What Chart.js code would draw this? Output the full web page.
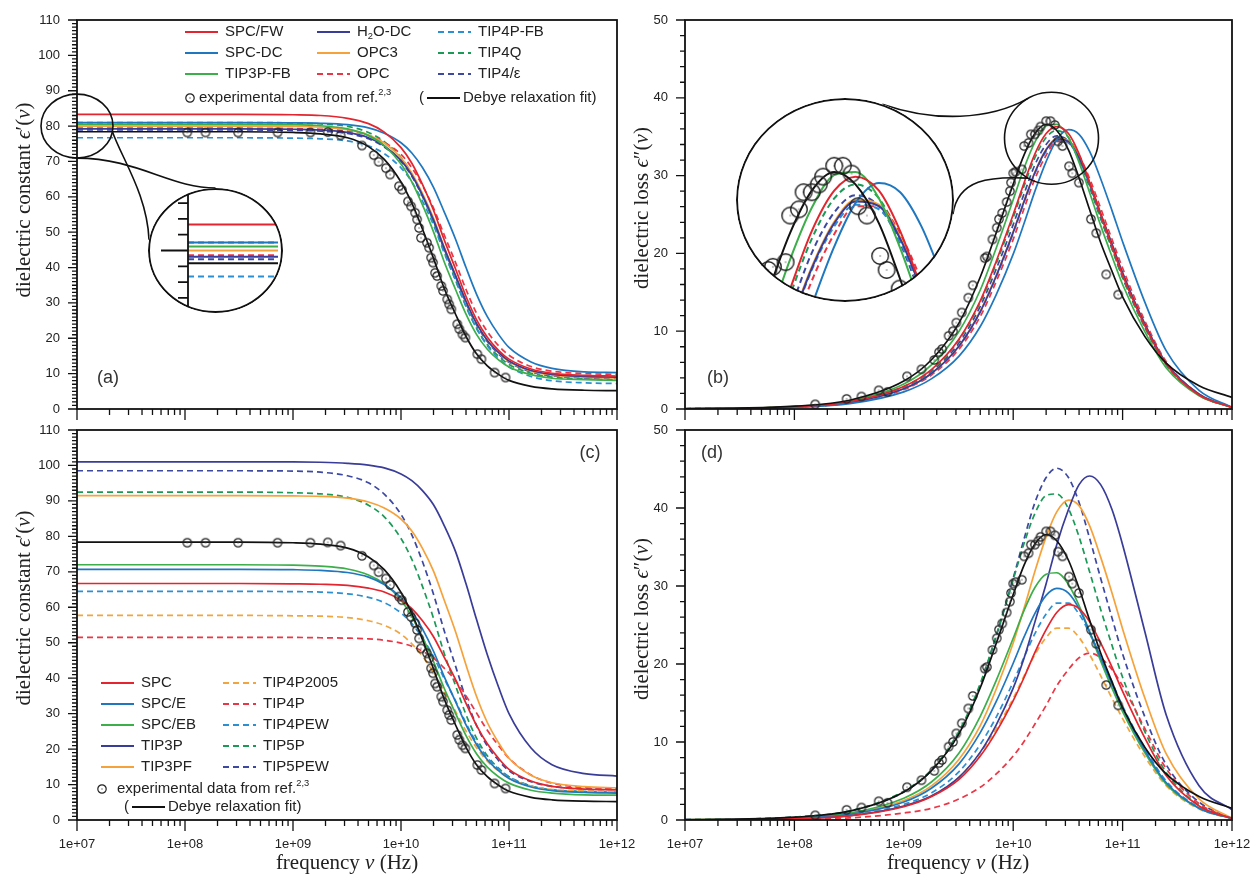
<!DOCTYPE html>
<html>
<head>
<meta charset="utf-8">
<title>Dielectric spectra of water models</title>
<script src="https://cdn.jsdelivr.net/npm/chart.js@4.4.1/dist/chart.umd.min.js"></script>
<style>
  html, body { margin: 0; padding: 0; background: #fff; }
  #page { position: relative; width: 1257px; height: 875px; overflow: hidden; background: #fff; }
  #page > canvas { position: absolute; }
  .lens { position: absolute; border-radius: 50%; overflow: hidden; background: #fff; }
  .lens canvas { position: absolute; left: 0; top: 0; }
</style>
</head>
<body>
<div id="page">
  <canvas id="cA" width="640" height="428" style="left:0;top:0"></canvas>
  <canvas id="cB" width="629" height="428" style="left:628px;top:0"></canvas>
  <canvas id="cC" width="640" height="460" style="left:0;top:415px"></canvas>
  <canvas id="cD" width="629" height="460" style="left:628px;top:415px"></canvas>
  <div class="lens" style="left:148px;top:188px;width:135px;height:125px"><canvas id="lensA" width="135" height="125"></canvas></div>
  <div class="lens" style="left:736px;top:98px;width:218px;height:204px"><canvas id="lensB" width="218" height="204"></canvas></div>
</div>
<script>
// frequency grid shared by every model curve (Hz)
const freq = [1e7, 3.2e7, 1e8, 3.2e8, 1e9, 1.8e9, 3.2e9, 5e9, 7e9, 1e10, 1.26e10, 1.58e10, 2e10, 2.5e10, 3.2e10, 4e10, 5e10, 6.3e10, 8e10, 1e11, 1.6e11, 2.5e11, 5e11, 1e12];
const decades = [1e7, 1e8, 1e9, 1e10, 1e11, 1e12];
const decadeLabels = ['1e+07', '1e+08', '1e+09', '1e+10', '1e+11', '1e+12'];
const realTicks = [0, 10, 20, 30, 40, 50, 60, 70, 80, 90, 100, 110];
const lossTicks = [0, 10, 20, 30, 40, 50];

// measured points
const expRealFreq = [1.05e8, 1.55e8, 3.1e8, 7.2e8, 1.45e9, 2.1e9, 2.76e9, 4.35e9, 5.6e9, 6.2e9, 7.26e9, 7.93e9, 9.57e9, 1.02e10, 1.16e10, 1.24e10, 1.35e10, 1.41e10, 1.47e10, 1.53e10, 1.74e10, 1.82e10, 1.9e10, 1.98e10, 2.07e10, 2.16e10, 2.36e10, 2.45e10, 2.68e10, 2.79e10, 2.92e10, 3.32e10, 3.47e10, 3.71e10, 3.94e10, 5.09e10, 5.55e10, 7.36e10, 9.29e10];
const expReal = [78.2, 78.2, 78.2, 78.2, 78.2, 78.3, 77.4, 74.5, 71.8, 69.9, 68.1, 66.3, 63.0, 62.0, 58.7, 57.3, 55.5, 53.6, 51.2, 48.4, 47.0, 45.6, 42.8, 41.4, 38.5, 37.6, 34.8, 33.4, 31.0, 29.6, 28.2, 24.0, 22.6, 21.1, 20.2, 15.5, 14.1, 10.3, 8.9];
const expLossFreq = [1.55e8, 3.0e8, 4.1e8, 5.9e8, 7.1e8, 1.07e9, 1.45e9, 1.9e9, 2.1e9, 2.24e9, 2.57e9, 2.82e9, 3.02e9, 3.39e9, 3.89e9, 4.27e9, 5.5e9, 5.75e9, 6.46e9, 7.08e9, 7.41e9, 7.94e9, 8.71e9, 9.33e9, 9.55e9, 1.0e10, 1.05e10, 1.2e10, 1.26e10, 1.38e10, 1.45e10, 1.58e10, 1.7e10, 1.78e10, 2.0e10, 2.19e10, 2.4e10, 2.57e10, 2.82e10, 3.24e10, 3.47e10, 3.98e10, 5.13e10, 5.75e10, 7.08e10, 9.12e10];
const expLoss = [0.6, 1.3, 1.6, 2.4, 2.2, 4.2, 5.1, 6.3, 7.3, 7.7, 9.4, 10.0, 11.1, 12.4, 14.3, 15.9, 19.4, 19.6, 21.8, 23.3, 24.4, 25.2, 26.6, 28.0, 29.1, 30.3, 30.5, 30.8, 33.8, 34.2, 35.3, 35.3, 35.8, 36.3, 37.0, 37.0, 36.5, 34.4, 33.8, 31.2, 30.3, 29.1, 24.4, 22.6, 17.3, 14.7];

// Debye relaxation fit of the measurements
const epsDebye = [78.4, 78.4, 78.4, 78.4, 78.2, 77.8, 76.7, 74.2, 70.6, 64.2, 58.2, 50.9, 42.6, 34.3, 26.8, 20.5, 15.6, 12.2, 9.8, 8.1, 6.4, 5.7, 5.3, 5.2];
const lossDebye = [0.04, 0.11, 0.36, 1.13, 3.59, 6.36, 11.08, 16.96, 22.66, 28.9, 32.7, 35.4, 36.6, 35.8, 33.3, 29.7, 25.6, 21.4, 17.7, 14.4, 9.3, 5.9, 3.0, 1.5];

// (a) dielectric constant, newer models
const aSPCFW = [83.3, 83.3, 83.3, 83.3, 83.2, 83.0, 82.2, 80.7, 78.3, 73.9, 69.5, 63.5, 56.2, 48.0, 39.6, 31.8, 25.3, 20.3, 16.6, 14.1, 11.3, 10.1, 9.5, 9.3];
const aSPCDC = [81.0, 81.0, 81.0, 81.0, 80.9, 80.8, 80.4, 79.5, 78.0, 75.3, 72.4, 68.3, 62.7, 55.9, 48.0, 40.0, 32.5, 26.1, 21.1, 17.4, 13.3, 11.5, 10.5, 10.3];
const aTIP3PFB = [80.5, 80.5, 80.5, 80.5, 80.4, 80.1, 79.2, 77.3, 74.5, 69.3, 64.2, 57.7, 50.1, 41.8, 33.8, 26.8, 21.1, 16.9, 13.9, 11.9, 9.7, 8.7, 8.3, 8.1];
const aH2ODC = [79.2, 79.2, 79.2, 79.2, 79.1, 78.9, 78.2, 76.7, 74.4, 70.3, 66.1, 60.5, 53.5, 45.7, 37.7, 30.4, 24.2, 19.4, 16.0, 13.6, 10.9, 9.8, 9.2, 9.0];
const aOPC3 = [80.0, 80.0, 80.0, 80.0, 79.9, 79.7, 79.0, 77.5, 75.2, 71.0, 66.7, 61.0, 54.0, 46.0, 37.9, 30.5, 24.2, 19.4, 15.9, 13.4, 10.7, 9.6, 9.0, 8.8];
const aOPC = [79.4, 79.4, 79.4, 79.4, 79.3, 79.1, 78.6, 77.4, 75.4, 72.0, 68.2, 63.2, 56.8, 49.4, 41.4, 33.8, 27.1, 21.9, 17.9, 15.2, 12.0, 10.7, 10.0, 9.8];
const aTIP4PFB = [76.7, 76.7, 76.7, 76.7, 76.6, 76.4, 75.8, 74.4, 72.2, 68.2, 64.2, 58.8, 52.0, 44.3, 36.4, 29.0, 22.8, 17.9, 14.3, 11.9, 9.2, 8.0, 7.4, 7.2];
const aTIP4Q = [81.0, 81.0, 81.0, 81.0, 80.9, 80.6, 79.9, 78.2, 75.6, 71.1, 66.4, 60.3, 52.9, 44.7, 36.4, 29.0, 22.9, 18.2, 14.9, 12.6, 10.1, 9.0, 8.5, 8.3];
const aTIP4eps = [78.9, 78.9, 78.9, 78.9, 78.8, 78.6, 77.9, 76.4, 74.1, 70.0, 65.8, 60.1, 53.2, 45.4, 37.4, 30.0, 23.8, 19.1, 15.6, 13.2, 10.5, 9.4, 8.8, 8.6];

// (b) dielectric loss, newer models
const bSPCFW = [0.03, 0.09, 0.29, 0.91, 2.9, 5.1, 9.0, 13.9, 19.0, 25.0, 29.1, 32.8, 35.4, 36.3, 35.4, 32.8, 29.1, 25.0, 20.9, 17.2, 10.7, 5.8, 1.8, 0.2];
const bSPCDC = [0.02, 0.07, 0.22, 0.68, 2.2, 3.9, 6.8, 10.6, 14.7, 19.9, 23.9, 28.0, 31.8, 34.6, 35.9, 35.3, 33.1, 29.6, 25.5, 21.5, 13.7, 7.5, 2.4, 0.2];
const bTIP3PFB = [0.03, 0.1, 0.32, 1.0, 3.2, 5.7, 10.0, 15.3, 20.7, 26.9, 31.0, 34.3, 36.4, 36.6, 34.9, 31.7, 27.8, 23.6, 19.6, 16.0, 9.9, 5.3, 1.7, 0.2];
const bH2ODC = [0.03, 0.08, 0.26, 0.81, 2.6, 4.6, 8.1, 12.5, 17.1, 22.7, 26.7, 30.4, 33.3, 34.7, 34.4, 32.3, 29.0, 25.1, 21.2, 17.5, 10.9, 5.9, 1.9, 0.2];
const bOPC3 = [0.03, 0.08, 0.26, 0.82, 2.6, 4.6, 8.1, 12.6, 17.2, 22.8, 26.8, 30.5, 33.4, 34.8, 34.5, 32.4, 29.1, 25.2, 21.2, 17.5, 10.9, 5.9, 1.9, 0.2];
const bOPC = [0.02, 0.08, 0.24, 0.78, 2.5, 4.4, 7.7, 11.9, 16.4, 21.8, 25.8, 29.6, 32.6, 34.4, 34.4, 32.6, 29.6, 25.8, 21.8, 18.1, 11.3, 6.1, 1.9, 0.2];
const bTIP4PFB = [0.03, 0.08, 0.26, 0.81, 2.6, 4.6, 8.0, 12.5, 17.0, 22.6, 26.6, 30.3, 33.1, 34.5, 34.2, 32.1, 28.8, 25.0, 21.0, 17.4, 10.8, 5.9, 1.9, 0.2];
const bTIP4Q = [0.03, 0.09, 0.29, 0.9, 2.9, 5.0, 8.9, 13.7, 18.7, 24.6, 28.7, 32.3, 34.9, 35.8, 34.9, 32.3, 28.7, 24.6, 20.6, 16.9, 10.5, 5.7, 1.8, 0.2];
const bTIP4eps = [0.03, 0.09, 0.27, 0.86, 2.7, 4.8, 8.5, 13.2, 18.0, 23.7, 27.7, 31.4, 34.0, 35.1, 34.4, 32.0, 28.5, 24.5, 20.6, 16.9, 10.5, 5.7, 1.8, 0.2];

// (c) dielectric constant, classic models
const cSPC = [66.7, 66.7, 66.7, 66.7, 66.6, 66.5, 66.2, 65.4, 64.3, 62.0, 59.6, 56.2, 51.7, 46.0, 39.6, 32.9, 26.7, 21.5, 17.4, 14.3, 11.0, 9.5, 8.7, 8.5];
const cSPCE = [70.7, 70.7, 70.7, 70.7, 70.6, 70.4, 69.8, 68.5, 66.4, 62.7, 58.9, 53.9, 47.6, 40.6, 33.4, 26.8, 21.3, 17.0, 13.9, 11.7, 9.3, 8.3, 7.8, 7.6];
const cSPCEB = [72.0, 72.0, 72.0, 72.0, 71.9, 71.6, 70.8, 69.1, 66.6, 62.0, 57.4, 51.6, 44.7, 37.3, 30.1, 23.8, 18.7, 14.9, 12.2, 10.4, 8.4, 7.6, 7.1, 7.0];
const cTIP3P = [101.0, 101.0, 101.0, 101.0, 101.0, 100.9, 100.6, 100.1, 99.3, 97.6, 95.7, 92.9, 88.9, 83.2, 75.7, 66.6, 56.6, 46.6, 37.5, 30.0, 20.3, 15.6, 13.1, 12.4];
const cTIP3PF = [91.5, 91.5, 91.5, 91.5, 91.4, 91.3, 90.8, 89.7, 88.0, 84.9, 81.5, 76.6, 70.2, 62.2, 53.1, 43.7, 34.9, 27.5, 21.8, 17.4, 12.6, 10.5, 9.4, 9.1];
const cTIP4P2005 = [57.7, 57.7, 57.7, 57.7, 57.6, 57.5, 57.1, 56.2, 54.9, 52.4, 49.7, 46.2, 41.6, 36.3, 30.6, 25.1, 20.4, 16.6, 13.8, 11.8, 9.6, 8.6, 8.2, 8.0];
const cTIP4P = [51.5, 51.5, 51.5, 51.5, 51.5, 51.4, 51.3, 51.1, 50.7, 49.9, 49.0, 47.6, 45.7, 42.9, 39.3, 35.0, 30.2, 25.3, 21.0, 17.4, 12.7, 10.4, 9.2, 8.9];
const cTIP4PEW = [64.5, 64.5, 64.5, 64.5, 64.4, 64.3, 63.8, 62.8, 61.3, 58.4, 55.4, 51.3, 46.1, 40.0, 33.6, 27.3, 21.9, 17.6, 14.4, 12.2, 9.6, 8.5, 8.0, 7.8];
const cTIP5P = [92.5, 92.5, 92.5, 92.5, 92.3, 92.0, 91.0, 88.8, 85.5, 79.4, 73.5, 65.9, 56.9, 47.2, 37.9, 29.7, 23.1, 18.1, 14.6, 12.2, 9.6, 8.5, 8.0, 7.8];
const cTIP5PEW = [98.5, 98.5, 98.5, 98.5, 98.4, 98.1, 97.1, 95.1, 91.9, 86.2, 80.4, 72.9, 63.7, 53.6, 43.4, 34.2, 26.7, 20.9, 16.8, 13.9, 10.8, 9.5, 8.8, 8.6];

// (d) dielectric loss, classic models
const dSPC = [0.02, 0.06, 0.17, 0.52, 1.7, 3.0, 5.2, 8.2, 11.3, 15.3, 18.3, 21.5, 24.4, 26.6, 27.6, 27.1, 25.4, 22.7, 19.6, 16.5, 10.5, 5.7, 1.8, 0.2];
const dSPCE = [0.02, 0.07, 0.23, 0.73, 2.3, 4.1, 7.2, 11.2, 15.2, 20.1, 23.5, 26.5, 28.8, 29.7, 29.1, 27.1, 24.1, 20.8, 17.4, 14.3, 8.9, 4.8, 1.5, 0.2];
const dSPCEB = [0.03, 0.09, 0.28, 0.88, 2.8, 4.9, 8.6, 13.3, 17.9, 23.3, 26.9, 29.8, 31.5, 31.7, 30.2, 27.5, 24.1, 20.4, 16.9, 13.9, 8.6, 4.6, 1.5, 0.2];
const dTIP3P = [0.02, 0.05, 0.18, 0.56, 1.8, 3.1, 5.5, 8.7, 12.2, 16.9, 20.8, 25.4, 30.3, 35.3, 39.8, 43.0, 44.1, 43.0, 39.8, 35.3, 24.1, 13.5, 4.4, 1.3];
const dTIP3PF = [0.02, 0.08, 0.25, 0.78, 2.5, 4.4, 7.8, 12.1, 16.8, 22.7, 27.2, 31.9, 36.3, 39.5, 41.0, 40.3, 37.7, 33.7, 29.1, 24.5, 15.6, 8.5, 2.7, 0.2];
const dTIP4P2005 = [0.02, 0.05, 0.17, 0.56, 1.8, 3.1, 5.5, 8.6, 11.7, 15.6, 18.5, 21.2, 23.4, 24.6, 24.6, 23.4, 21.2, 18.5, 15.6, 13.0, 8.1, 4.4, 1.4, 0.2];
const dTIP4P = [0.01, 0.03, 0.09, 0.27, 0.9, 1.5, 2.7, 4.2, 5.9, 8.2, 10.1, 12.3, 14.7, 17.2, 19.3, 20.8, 21.4, 20.8, 19.3, 17.2, 11.7, 6.6, 2.1, 0.2];
const dTIP4PEW = [0.02, 0.06, 0.2, 0.63, 2.0, 3.5, 6.2, 9.7, 13.2, 17.7, 20.9, 23.9, 26.4, 27.8, 27.8, 26.4, 23.9, 20.9, 17.7, 14.6, 9.2, 5.0, 1.6, 0.2];
const dTIP5P = [0.03, 0.12, 0.37, 1.16, 3.7, 6.5, 11.4, 17.5, 23.7, 30.8, 35.5, 39.3, 41.6, 41.8, 39.9, 36.3, 31.8, 27.0, 22.4, 18.3, 11.3, 6.1, 1.9, 0.2];
const dTIP5PEW = [0.04, 0.12, 0.36, 1.14, 3.6, 6.4, 11.2, 17.3, 23.6, 31.0, 36.1, 40.7, 43.9, 45.1, 43.9, 40.7, 36.1, 31.0, 25.9, 21.3, 13.2, 7.1, 2.3, 0.2];

const RED = '#e2252e', BLUE = '#1f77c0', GREEN = '#3cae4a', NAVY = '#393c98', ORANGE = '#f6a23a';
const RED_D = '#ec3545', BLUE_D = '#2b8fd3', GREEN_D = '#1b9a57', NAVY_D = '#3c48a2', ORANGE_D = '#f2a53f';

const SANS = '"Liberation Sans", Arial, sans-serif';
const SERIF = '"Liberation Serif", "DejaVu Serif", serif';

// leg = legend line start in page pixels
const topModels = [
  { name: 'SPC/FW', real: aSPCFW, loss: bSPCFW, color: RED, leg: [185, 32] },
  { name: 'SPC-DC', real: aSPCDC, loss: bSPCDC, color: BLUE, leg: [185, 53] },
  { name: 'TIP3P-FB', real: aTIP3PFB, loss: bTIP3PFB, color: GREEN, leg: [185, 74] },
  { name: 'H2O-DC', rich: [['H', ''], ['2', 'sub'], ['O-DC', '']], real: aH2ODC, loss: bH2ODC, color: NAVY, leg: [317, 32] },
  { name: 'OPC3', real: aOPC3, loss: bOPC3, color: ORANGE, leg: [317, 53] },
  { name: 'OPC', real: aOPC, loss: bOPC, color: RED_D, dash: true, leg: [317, 74] },
  { name: 'TIP4P-FB', real: aTIP4PFB, loss: bTIP4PFB, color: BLUE_D, dash: true, leg: [438, 32] },
  { name: 'TIP4Q', real: aTIP4Q, loss: bTIP4Q, color: GREEN_D, dash: true, leg: [438, 53] },
  { name: 'TIP4/ε', real: aTIP4eps, loss: bTIP4eps, color: NAVY_D, dash: true, leg: [438, 74] }
];
const bottomModels = [
  { name: 'SPC', real: cSPC, loss: dSPC, color: RED, leg: [101, 683] },
  { name: 'SPC/E', real: cSPCE, loss: dSPCE, color: BLUE, leg: [101, 704] },
  { name: 'SPC/EB', real: cSPCEB, loss: dSPCEB, color: GREEN, leg: [101, 725] },
  { name: 'TIP3P', real: cTIP3P, loss: dTIP3P, color: NAVY, leg: [101, 746] },
  { name: 'TIP3PF', real: cTIP3PF, loss: dTIP3PF, color: ORANGE, leg: [101, 767] },
  { name: 'TIP4P2005', real: cTIP4P2005, loss: dTIP4P2005, color: ORANGE_D, dash: true, leg: [223, 683] },
  { name: 'TIP4P', real: cTIP4P, loss: dTIP4P, color: RED_D, dash: true, leg: [223, 704] },
  { name: 'TIP4PEW', real: cTIP4PEW, loss: dTIP4PEW, color: BLUE_D, dash: true, leg: [223, 725] },
  { name: 'TIP5P', real: cTIP5P, loss: dTIP5P, color: GREEN_D, dash: true, leg: [223, 746] },
  { name: 'TIP5PEW', real: cTIP5PEW, loss: dTIP5PEW, color: NAVY_D, dash: true, leg: [223, 767] }
];

Chart.defaults.font.family = SANS;
Chart.defaults.font.size = 13;
Chart.defaults.color = '#222';
Chart.defaults.animation = false;

// open circle marker with a tiny centre dot
function ring(r, lw) {
  const c = document.createElement('canvas');
  const s = Math.ceil(2 * r + lw + 2);
  c.width = c.height = s;
  const g = c.getContext('2d');
  g.strokeStyle = '#222';
  g.lineWidth = lw;
  g.beginPath();
  g.arc(s / 2, s / 2, r, 0, 2 * Math.PI);
  g.stroke();
  g.fillStyle = '#555';
  g.fillRect(s / 2 - 0.6, s / 2 - 0.6, 1.2, 1.2);
  return c;
}
const ringMain = ring(4.2, 1.2);
const ringLens = ring(8.3, 1.4);

function pts(xs, ys) { return xs.map((x, i) => ({ x, y: ys[i] })); }

function curve(name, ys, color, dash, w) {
  return {
    label: name, data: pts(freq, ys), borderColor: color, borderWidth: w,
    borderDash: dash ? [6, 4] : [], pointRadius: 0, fill: false,
    cubicInterpolationMode: 'monotone'
  };
}

function markers(xs, ys, img) {
  return { label: 'experiment', data: pts(xs, ys), showLine: false, pointStyle: img, pointRadius: 4, borderColor: '#222' };
}

function buildSets(models, key, debye, expX, expY, img, w) {
  return [markers(expX, expY, img), curve('Debye relaxation fit', debye, '#111', false, w)]
    .concat(models.map(m => curve(m.name, m[key], m.color, m.dash, w)));
}

// text with italic / sub / sup runs, drawn on one baseline
function rich(ctx, parts, x, y, size, family, align) {
  const items = parts.map(([t, s]) => {
    const small = s === 'sub' || s === 'sup';
    const font = (s === 'i' ? 'italic ' : '') + (small ? size * 0.62 : size) + 'px ' + family;
    ctx.font = font;
    return { t, font, w: ctx.measureText(t).width, dy: s === 'sub' ? size * 0.28 : s === 'sup' ? -size * 0.36 : 0 };
  });
  const total = items.reduce((s, it) => s + it.w, 0);
  let cx = align === 'center' ? x - total / 2 : x;
  ctx.textAlign = 'left';
  ctx.textBaseline = 'middle';
  items.forEach(it => { ctx.font = it.font; ctx.fillText(it.t, cx, y + it.dy); cx += it.w; });
  return total;
}

function drawLegend(ctx, L, ox, oy) {
  ctx.fillStyle = '#222';
  L.models.forEach(m => {
    const [lx, ly] = m.leg;
    ctx.save();
    ctx.strokeStyle = m.color;
    ctx.lineWidth = 2;
    ctx.setLineDash(m.dash ? [6, 4] : []);
    ctx.beginPath();
    ctx.moveTo(lx - ox, ly - oy);
    ctx.lineTo(lx + 33 - ox, ly - oy);
    ctx.stroke();
    ctx.restore();
    rich(ctx, m.rich || [[m.name, '']], lx + 40 - ox, ly - oy, 15, SANS, 'left');
  });
  const [ex, ey] = L.exp;
  ctx.drawImage(ringMain, ex - ox - ringMain.width / 2, ey - oy - ringMain.height / 2);
  rich(ctx, [['experimental data from ref.', ''], ['2,3', 'sup']], L.expText - ox, ey - oy, 15, SANS, 'left');
  const [fx, fy] = L.fit;
  rich(ctx, [['(', '']], fx - ox, fy - oy, 15, SANS, 'left');
  ctx.strokeStyle = '#111';
  ctx.lineWidth = 2;
  ctx.beginPath();
  ctx.moveTo(fx + 8 - ox, fy - oy);
  ctx.lineTo(fx + 41 - ox, fy - oy);
  ctx.stroke();
  rich(ctx, [['Debye relaxation fit)', '']], fx + 44 - ox, fy - oy, 15, SANS, 'left');
}

// small circle on the curves plus the two links to the magnifier
function drawLensLinks(ctx, chart, L, ox, oy) {
  const sx = chart.scales.x.getPixelForValue(L.at[0]);
  const sy = chart.scales.y.getPixelForValue(L.at[1]);
  const [bx, by, bw, bh] = L.box;
  const lcx = bx + bw / 2 - ox, lcy = by + bh / 2 - oy;
  const onSmall = a => [sx + L.rx * Math.cos(a * Math.PI / 180), sy + L.ry * Math.sin(a * Math.PI / 180)];
  const onLens = a => [lcx + bw / 2 * Math.cos(a * Math.PI / 180), lcy + bh / 2 * Math.sin(a * Math.PI / 180)];
  ctx.strokeStyle = '#111';
  ctx.lineWidth = 1.6;
  ctx.setLineDash([]);
  ctx.beginPath();
  ctx.ellipse(sx, sy, L.rx, L.ry, 0, 0, 2 * Math.PI);
  ctx.stroke();
  L.links.forEach(k => {
    const p0 = onSmall(k.s), p3 = onLens(k.e);
    ctx.beginPath();
    ctx.moveTo(p0[0], p0[1]);
    ctx.bezierCurveTo(p0[0] + k.c1[0], p0[1] + k.c1[1], p3[0] + k.c2[0], p3[1] + k.c2[1], p3[0], p3[1]);
    ctx.stroke();
  });
}

const xTitle = [['frequency ', ''], ['ν', 'i'], [' (Hz)', '']];
const realTitle = [['dielectric constant ', ''], ['ϵ', 'i'], ['′(', ''], ['ν', 'i'], [')', '']];
const lossTitle = [['dielectric loss ', ''], ['ϵ', 'i'], ['″(', ''], ['ν', 'i'], [')', '']];

const panel = {
  id: 'panel',
  afterDraw(chart, args, o) {
    const { ctx, chartArea: a, scales: { x, y } } = chart;
    const [ox, oy] = o.offset;
    ctx.save();
    ctx.strokeStyle = '#111';
    ctx.lineWidth = 1.8;
    ctx.strokeRect(a.left, a.top, a.right - a.left, a.bottom - a.top);

    // outward tick marks: decades long, 2..9 short; y major every 10
    ctx.lineWidth = 1.3;
    ctx.beginPath();
    decades.forEach((d, i) => {
      const px = x.getPixelForValue(d);
      ctx.moveTo(px, a.bottom);
      ctx.lineTo(px, a.bottom + 11);
      if (i < decades.length - 1) {
        for (let m = 2; m < 10; m++) {
          const p = x.getPixelForValue(m * d);
          ctx.moveTo(p, a.bottom);
          ctx.lineTo(p, a.bottom + 6);
        }
      }
    });
    for (let v = 0; v <= y.max + 1e-9; v += o.yMinor) {
      const py = y.getPixelForValue(v);
      const len = v % 10 === 0 ? 9 : 5;
      ctx.moveTo(a.left - len, py);
      ctx.lineTo(a.left, py);
    }
    ctx.stroke();

    ctx.fillStyle = '#333';
    ctx.font = '18px ' + SANS;
    ctx.textAlign = 'center';
    ctx.textBaseline = 'middle';
    ctx.fillText(o.letter, o.letterAt[0] - ox, o.letterAt[1] - oy);

    ctx.fillStyle = '#222';
    ctx.save();
    ctx.translate(o.yTitleAt[0] - ox, o.yTitleAt[1] - oy);
    ctx.rotate(-Math.PI / 2);
    rich(ctx, o.yTitle, 0, 0, 21, SERIF, 'center');
    ctx.restore();
    if (o.xTitleAt) rich(ctx, xTitle, o.xTitleAt[0] - ox, o.xTitleAt[1] - oy, 21, SERIF, 'center');

    if (o.legend) drawLegend(ctx, o.legend, ox, oy);
    if (o.lens) drawLensLinks(ctx, chart, o.lens, ox, oy);
    ctx.restore();
  }
};

const lensFrame = {
  id: 'lensFrame',
  afterDraw(chart, args, o) {
    const { ctx, width: w, height: h, chartArea: a } = chart;
    ctx.save();
    ctx.strokeStyle = '#111';
    if (o.ticks) {
      ctx.lineWidth = 1.8;
      ctx.beginPath();
      ctx.moveTo(a.left, 0);
      ctx.lineTo(a.left, h);
      o.ticks.forEach(v => {
        const py = chart.scales.y.getPixelForValue(v);
        ctx.moveTo(a.left - (v === o.major ? 27 : 10), py);
        ctx.lineTo(a.left, py);
      });
      ctx.stroke();
    }
    ctx.lineWidth = 2;
    ctx.beginPath();
    ctx.ellipse(w / 2, h / 2, w / 2 - 1, h / 2 - 1, 0, 0, 2 * Math.PI);
    ctx.stroke();
    ctx.restore();
  }
};

function mainScales(yMax, yTicks, yWidth, showX) {
  return {
    x: {
      type: 'logarithmic', min: 1e7, max: 1e12, display: showX,
      afterBuildTicks: s => { s.ticks = decades.map(v => ({ value: v })); },
      afterFit: s => { if (showX) s.height = 55; s.paddingLeft = 0; s.paddingRight = 0; },
      grid: { display: false, drawTicks: false }, border: { display: false },
      ticks: { autoSkip: false, maxRotation: 0, padding: 17, callback: (v, i) => decadeLabels[i] }
    },
    y: {
      min: 0, max: yMax,
      afterBuildTicks: s => { s.ticks = yTicks.map(v => ({ value: v })); },
      afterFit: s => { s.width = yWidth; s.paddingTop = 0; s.paddingBottom = 0; },
      grid: { display: false, drawTicks: false }, border: { display: false },
      ticks: { padding: 17, callback: (v, i) => String(yTicks[i]) }
    }
  };
}

function mainChart(id, datasets, padding, scales, panelOpts) {
  return new Chart(document.getElementById(id), {
    type: 'line',
    data: { datasets },
    options: {
      responsive: false, events: [],
      layout: { padding },
      scales,
      plugins: { legend: { display: false }, tooltip: { enabled: false }, panel: panelOpts }
    },
    plugins: [panel]
  });
}

const lensA = {
  at: [1e7, 80], rx: 36, ry: 32, box: [148, 188, 135, 125],
  links: [{ s: 90, e: -90, c1: [60, 0], c2: [-45, 0] }, { s: 10, e: 190, c1: [10, 28], c2: [-2, -45] }]
};
const lensB = {
  at: [2.24e10, 34.8], rx: 47, ry: 46, box: [736, 98, 218, 204],
  links: [{ s: 240, e: -70, c1: [-39, 22], c2: [52, 18] }, { s: 120, e: 8, c1: [-38, -2], c2: [5, -35] }]
};

mainChart('cA', buildSets(topModels, 'real', epsDebye, expRealFreq, expReal, ringMain, 1.7),
  { left: 0, top: 20, right: 23, bottom: 19 }, mainScales(110, realTicks, 77, false),
  { offset: [0, 0], yMinor: 1, letter: '(a)', letterAt: [108, 378], yTitle: realTitle, yTitleAt: [24, 200],
    legend: { models: topModels, exp: [190, 98], expText: 199, fit: [419, 98] }, lens: lensA });

mainChart('cB', buildSets(topModels, 'loss', lossDebye, expLossFreq, expLoss, ringMain, 1.7),
  { left: 0, top: 20, right: 25, bottom: 19 }, mainScales(50, lossTicks, 57, false),
  { offset: [628, 0], yMinor: 2, letter: '(b)', letterAt: [718, 378], yTitle: lossTitle, yTitleAt: [642, 208], lens: lensB });

mainChart('cC', buildSets(bottomModels, 'real', epsDebye, expRealFreq, expReal, ringMain, 1.7),
  { left: 0, top: 15, right: 23, bottom: 0 }, mainScales(110, realTicks, 77, true),
  { offset: [0, 415], yMinor: 1, letter: '(c)', letterAt: [590, 453], yTitle: realTitle, yTitleAt: [24, 608],
    xTitleAt: [347, 863], legend: { models: bottomModels, exp: [102, 789], expText: 117, fit: [124, 807] } });

mainChart('cD', buildSets(bottomModels, 'loss', lossDebye, expLossFreq, expLoss, ringMain, 1.7),
  { left: 0, top: 15, right: 25, bottom: 0 }, mainScales(50, lossTicks, 57, true),
  { offset: [628, 415], yMinor: 2, letter: '(d)', letterAt: [712, 453], yTitle: lossTitle, yTitleAt: [642, 619],
    xTitleAt: [958, 863] });

// magnified views
new Chart(document.getElementById('lensA'), {
  type: 'line',
  data: { datasets: buildSets(topModels, 'real', epsDebye, expRealFreq, expReal, ringMain, 2) },
  options: {
    responsive: false, events: [],
    layout: { padding: { left: 40, top: 0, right: 0, bottom: 0 } },
    scales: { x: { type: 'logarithmic', min: 1e7, max: 2.3e7, display: false }, y: { min: 72.73, max: 87.27, display: false } },
    plugins: { legend: { display: false }, tooltip: { enabled: false }, lensFrame: { ticks: [74, 76, 78, 80, 82, 84, 86], major: 80 } }
  },
  plugins: [lensFrame]
});

new Chart(document.getElementById('lensB'), {
  type: 'line',
  data: { datasets: buildSets(topModels, 'loss', lossDebye, expLossFreq, expLoss, ringLens, 2) },
  options: {
    responsive: false, events: [],
    layout: { padding: 0 },
    scales: { x: { type: 'logarithmic', min: 7.51e9, max: 6.68e10, display: false }, y: { min: 28.56, max: 41.04, display: false } },
    plugins: { legend: { display: false }, tooltip: { enabled: false }, lensFrame: {} }
  },
  plugins: [lensFrame]
});
</script>
</body>
</html>
